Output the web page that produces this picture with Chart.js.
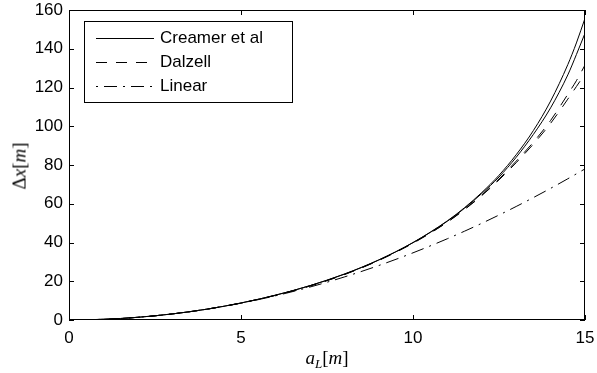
<!DOCTYPE html>
<html><head><meta charset="utf-8">
<script src="https://cdn.jsdelivr.net/npm/chart.js@4"></script>
<style>
html,body{margin:0;padding:0;background:#fff;}
#wrap{position:relative;width:597px;height:373px;overflow:hidden;}
canvas{position:absolute;left:0;top:0;}
.t{position:absolute;font-family:"Liberation Serif","Times New Roman",serif;font-size:19px;color:#000;white-space:nowrap;line-height:1;}
#xt{left:327px;top:357px;transform:translate(-50%,-50%);}
#yt{left:19px;top:166px;transform:translate(-50%,-50%) rotate(-90deg);}
.sub{font-size:13px;position:relative;top:4px;}
</style></head><body>
<div id="wrap"><canvas id="c" width="597" height="373"></canvas>
<div class="t" id="xt"><i>a</i><i class="sub">L</i>[<i>m</i>]</div>
<div class="t" id="yt">Δ<i>x</i>[<i>m</i>]</div>
</div>
<script>
const xValues      = [0, 1, 2, 3, 4, 5, 6, 7, 8, 9, 10, 11, 11.5, 12, 12.5, 13, 13.5, 14, 14.5, 14.75, 15];
const creamerUpper = [0, 0.35, 1.39, 3.13, 5.58, 8.79, 12.8, 17.7, 23.7, 31.0, 40.0, 51.2, 58.0, 65.8, 74.7, 85.3, 97.8, 113, 131.8, 143, 155.7];
const creamerLower = [0, 0.35, 1.39, 3.13, 5.58, 8.78, 12.8, 17.7, 23.6, 30.9, 39.9, 51.0, 57.7, 65.3, 73.8, 84.0, 95.8, 109.5, 126.5, 137, 148];
const dalzellUpper = [0, 0.35, 1.39, 3.13, 5.57, 8.77, 12.75, 17.6, 23.5, 30.8, 39.8, 50.6, 57.2, 64.5, 72.8, 82.0, 91.8, 103, 116.5, 123.5, 131.6];
const dalzellLower = [0, 0.35, 1.39, 3.12, 5.56, 8.75, 12.7, 17.5, 23.4, 30.7, 39.6, 50.5, 57.0, 64.2, 72.3, 81.2, 90.8, 101.5, 114, 120.5, 127];
const linearValues = [0, 0.35, 1.39, 3.12, 5.55, 8.67, 12.48, 16.99, 22.19, 28.08, 34.67, 41.95, 45.85, 49.92, 54.17, 58.59, 63.19, 67.95, 72.89, 75.43, 78.0];
const xTicks = [0, 5, 10, 15];
const yTicks = [0, 20, 40, 60, 80, 100, 120, 140, 160];
const legendLabels = ['Creamer et al', 'Dalzell', 'Linear'];

const DASH = [11, 9];
const DASHDOT = [13, 6, 2, 6];

function pts(ys){ return xValues.map((x,i)=>({x:x, y:ys[i]})); }
function ds(label, ys, dash){
  return {label:label, data:pts(ys), borderColor:'#000', borderWidth:1, borderDash:dash,
    pointRadius:0, fill:false, cubicInterpolationMode:'monotone'};
}

const frameTicks = {
  id:'frameTicks',
  afterDraw(chart){
    const {ctx, chartArea:a, scales} = chart;
    ctx.save();
    ctx.strokeStyle = '#000'; ctx.lineWidth = 1; ctx.setLineDash([]);
    ctx.strokeRect(Math.round(a.left)+0.5, Math.round(a.top)+0.5, Math.round(a.right-a.left)-1, Math.round(a.bottom-a.top)-1);
    ctx.beginPath();
    xTicks.forEach(v=>{
      const px = Math.round(scales.x.getPixelForValue(v))+0.5;
      ctx.moveTo(px, a.bottom); ctx.lineTo(px, a.bottom-5);
      ctx.moveTo(px, a.top); ctx.lineTo(px, a.top+5);
    });
    yTicks.forEach(v=>{
      const py = Math.round(scales.y.getPixelForValue(v))+0.5;
      ctx.moveTo(a.left, py); ctx.lineTo(a.left+5, py);
      ctx.moveTo(a.right, py); ctx.lineTo(a.right-5, py);
    });
    ctx.stroke();
    // legend
    const L = 84.5, T = 21.5, W = 208, H = 81;
    ctx.fillStyle = '#fff';
    ctx.fillRect(L, T, W, H);
    ctx.strokeRect(L, T, W, H);
    const rows = [38.5, 62.5, 86.5];
    const styles = [[], DASH, DASHDOT];
    const offs = [0, 0, 19];
    ctx.font = '17px "Liberation Sans", Arial, sans-serif';
    ctx.textBaseline = 'middle';
    ctx.fillStyle = '#000';
    legendLabels.forEach((lab,i)=>{
      ctx.beginPath();
      ctx.setLineDash(styles[i]);
      ctx.lineDashOffset = offs[i];
      ctx.moveTo(96, rows[i]); ctx.lineTo(154, rows[i]);
      ctx.stroke();
      ctx.setLineDash([]);
      ctx.fillText(lab, 160, rows[i]);
    });
    ctx.restore();
  }
};

new Chart(document.getElementById('c'), {
  type:'line',
  data:{ datasets:[
    ds(legendLabels[0], creamerUpper, []),
    ds(legendLabels[0], creamerLower, []),
    ds(legendLabels[1], dalzellUpper, DASH),
    ds(legendLabels[1], dalzellLower, DASH),
    ds(legendLabels[2], linearValues, DASHDOT)
  ]},
  options:{
    responsive:false, animation:false, devicePixelRatio:1,
    layout:{padding:{top:10, right:12, left:0, bottom:0}},
    plugins:{legend:{display:false}, tooltip:{enabled:false}},
    scales:{
      x:{type:'linear', min:0, max:15,
        afterBuildTicks(s){ s.ticks = xTicks.map(v=>({value:v})); },
        afterFit(s){ s.height = 53; s.paddingLeft = 0; s.paddingRight = 0; },
        grid:{display:false, drawTicks:false}, border:{display:false},
        ticks:{color:'#000', padding:8, maxRotation:0, font:{family:'"Liberation Sans", Arial, sans-serif', size:17}}},
      y:{min:0, max:160,
        afterBuildTicks(s){ s.ticks = yTicks.map(v=>({value:v})); },
        afterFit(s){ s.width = 69; s.paddingTop = 0; s.paddingBottom = 0; },
        grid:{display:false, drawTicks:false}, border:{display:false},
        ticks:{color:'#000', padding:6, font:{family:'"Liberation Sans", Arial, sans-serif', size:17}}}
    }
  },
  plugins:[frameTicks]
});
</script>
</body></html>
